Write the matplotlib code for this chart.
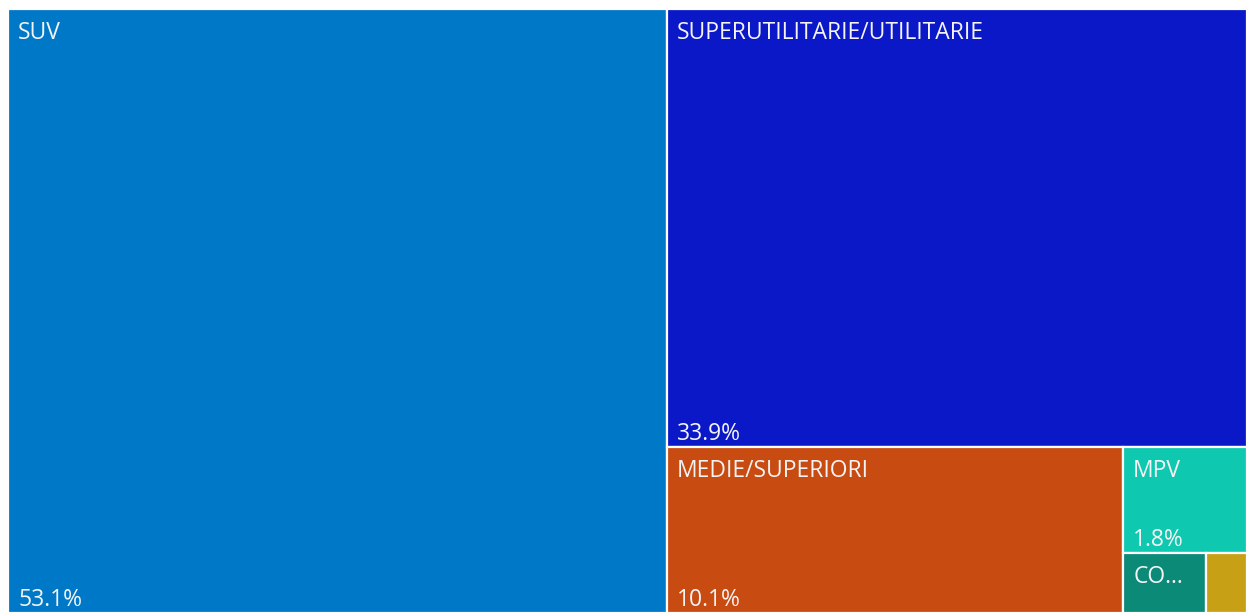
import matplotlib.pyplot as plt
from matplotlib.patches import Rectangle

categorie = ["SUV", "SUPERUTILITARIE/UTILITARIE", "MEDIE/SUPERIORI", "MPV",
             "COUPE/CABRIO", "ALTRO"]
quote = [53.1, 33.9, 10.1, 1.75, 0.66, 0.33]
colori = ["#0078C8", "#0A18C8", "#C84B12", "#0EC8B0", "#0B8A78", "#C8A015"]

W, H = 1239.0, 604.0   # plot area in pixels


def worst(row, w):
    s = sum(row)
    return max(max(w * w * r / (s * s), s * s / (w * w * r)) for r in row)


def squarify(vals, x, y, dx, dy):
    rects = []
    vals = list(vals)
    while vals:
        side = min(dx, dy)
        row = [vals.pop(0)]
        while vals and worst(row + [vals[0]], side) <= worst(row, side):
            row.append(vals.pop(0))
        s = sum(row)
        if dx >= dy:
            cw = s / dy
            yy = y + dy
            for r in row:
                h = r / cw
                yy -= h
                rects.append((x, yy, cw, h))
            x += cw
            dx -= cw
        else:
            rh = s / dx
            xx = x
            for r in row:
                ww = r / rh
                rects.append((xx, y + dy - rh, ww, rh))
                xx += ww
            dy -= rh
    return rects


tot = sum(quote)
aree = [q / tot * W * H for q in quote]
rects = squarify(aree, 0, 0, W, H)

fig = plt.figure(figsize=(12.47, 6.12), dpi=100)
ax = fig.add_axes([8 / 1247, -1 / 612, W / 1247, H / 612])
ax.set_xlim(0, W)
ax.set_ylim(0, H)
ax.axis("off")

px = 0.72  # pixels -> points
font = dict(family=["Open Sans", "DejaVu Sans"], size=16.5, color="#F4F4F4")

fig.canvas.draw()
renderer = fig.canvas.get_renderer()

for (x, y, w, h), nome, q, c in zip(rects, categorie, quote, colori):
    ax.add_patch(Rectangle((x, y), w, h, facecolor=c, edgecolor="white", linewidth=1.6))
    avail = w - 24
    t = ax.annotate(nome, (x, y + h), xytext=(10 * px, -30 * px),
                    textcoords="offset points", va="baseline", ha="left", **font)
    if t.get_window_extent(renderer).width > avail:
        shown = False
        for n in range(len(nome) - 1, 0, -1):
            t.set_text(nome[:n] + "...")
            if t.get_window_extent(renderer).width <= avail:
                shown = True
                break
        if not shown:
            t.remove()
        continue
    if h >= 80:
        ax.annotate(f"{q:.1f}%", (x, y), xytext=(10 * px, 7 * px),
                    textcoords="offset points", va="baseline", ha="left", **font)

fig.savefig("out.png", dpi=100)
